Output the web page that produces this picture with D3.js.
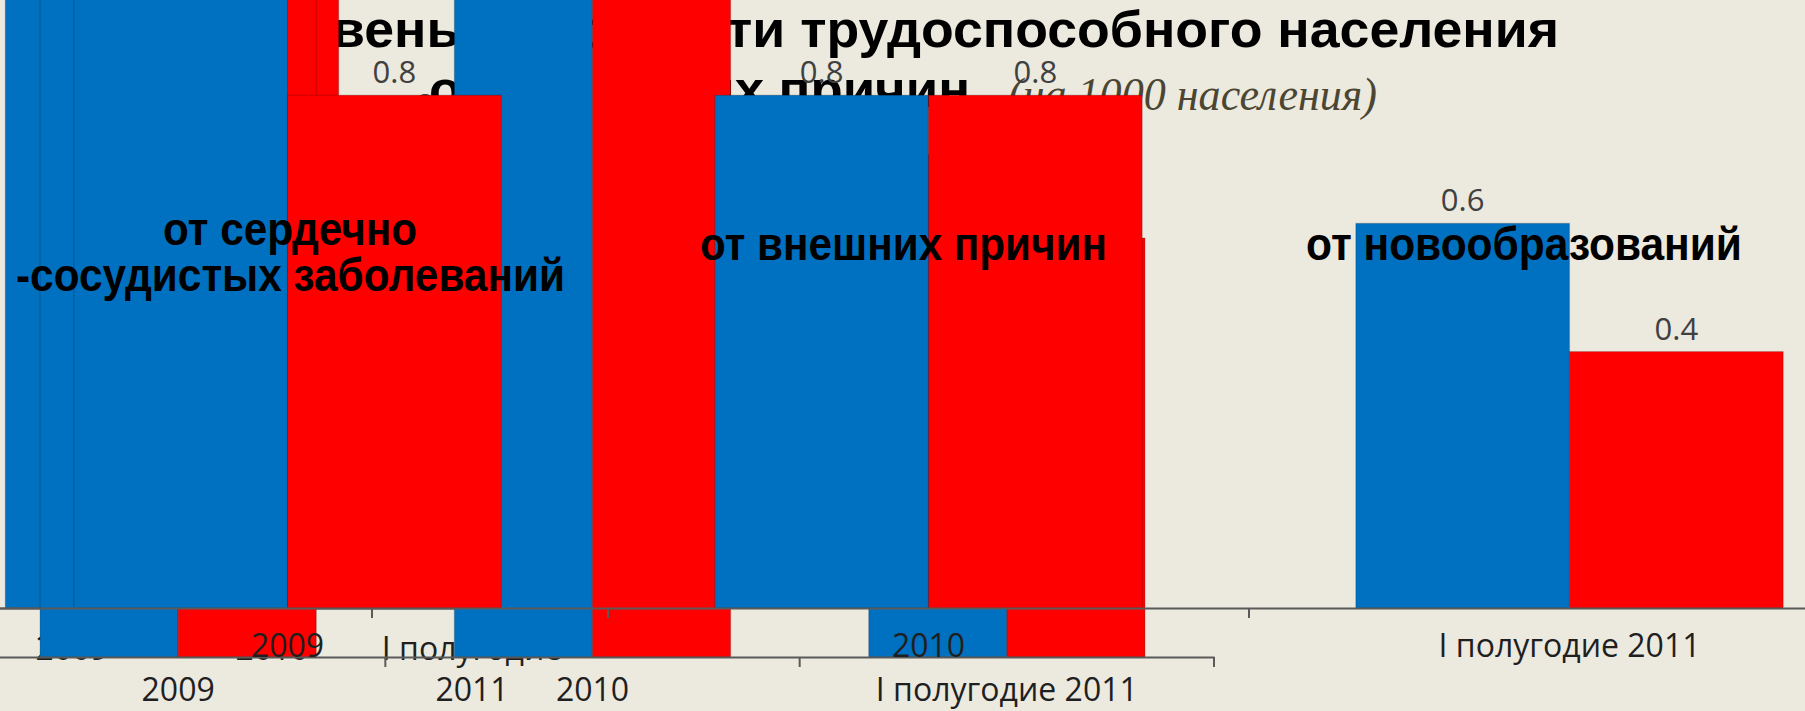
<!DOCTYPE html>
<html><head><meta charset="utf-8">
<script src="https://cdn.jsdelivr.net/npm/d3@7"></script>
<style>
html,body{margin:0;padding:0;background:#ECE9DF;overflow:hidden;}
svg{display:block;}
</style></head>
<body>
<svg id="c" width="1805" height="711"></svg>
<script>
// ---------- data ----------
const categories = ["2009", "2010", "I полугодие 2011"];
const seriesKeys = ["blue", "red"];
const titleLine1 = "Уровень смертности трудоспособного населения";
const titleLine2 = "от основных причин";
const titleUnit = "(на 1000 населения)";
const panelTitleLines = [["от сердечно", "-сосудистых заболеваний"], ["от внешних причин"], ["от новообразований"]];

// back panel (smallest copy)
const backBlue = [3.2, 2.9, 2.4];
const backRed  = [3.0, 3.1, 2.3];
// middle panel
const midBlue  = [1.8, 1.7, 1.2];
const midRed   = [1.9, 1.7, 1.0];
// front panel (largest copy)
const frontBlue = [1.0, 0.8, 0.6];
const frontRed  = [0.8, 0.8, 0.4];

// ---------- styles / layout ----------
const BG = "#ECE9DF", BLUE = "#0070C0", RED = "#FF0000";
const colors = {blue: BLUE, red: RED};
const svg = d3.select("#c");
svg.append("rect").attr("width", 1805).attr("height", 711).attr("fill", BG);

// Title (bottom layer)
const tg = svg.append("g");
function fitText(sel, str, targetStart, prefixLen, targetEnd) {
  sel.text(str);
  const node = sel.node();
  const full = node.getComputedTextLength();
  const pre = prefixLen > 0 ? node.getSubStringLength(0, prefixLen) : 0;
  const s = (targetEnd - targetStart) / (full - pre);
  sel.attr("x", targetStart - pre * s)
     .attr("textLength", full * s)
     .attr("lengthAdjust", "spacingAndGlyphs");
}
const t1 = tg.append("text").attr("y", 47)
  .style("font-family", "'Liberation Sans', Arial, sans-serif")
  .style("font-weight", "bold").style("font-size", "52px").attr("fill", "#000");
fitText(t1, titleLine1, 332, 3, 1559);
const t2 = tg.append("text").attr("y", 107)
  .style("font-family", "'Liberation Sans', Arial, sans-serif")
  .style("font-weight", "bold").style("font-size", "52px").attr("fill", "#000");
fitText(t2, titleLine2, 429, 0, 970);
const t3 = tg.append("text").attr("y", 110)
  .style("font-family", "'Liberation Serif', 'DejaVu Serif', serif")
  .style("font-style", "italic").style("font-size", "46px").attr("fill", "#4b4632");
fitText(t3, titleUnit, 1008, 0, 1377);

// ---------- panels ----------
const panels = [
  {blue: backBlue, red: backRed, x0: -28, x1: 572, axisY: 608, unit: 200, labelY: 660, wrap: true, line2Y: 701},
  {blue: midBlue, red: midRed, x0: -29, x1: 1214, axisY: 657, unit: 419, labelY: 701},
  {blue: frontBlue, red: frontRed, x0: -33, x1: 1890, axisY: 608, unit: 641, labelY: 657}
];

function drawPanel(cfg) {
  const g = svg.append("g");
  const x = d3.scaleBand().domain(categories).range([cfg.x0, cfg.x1]).paddingInner(0).paddingOuter(0);
  const sub = d3.scaleBand().domain(seriesKeys).range([0, x.bandwidth()]).paddingInner(0).paddingOuter(0.5);
  const y = d3.scaleLinear().domain([0, 1]).range([cfg.axisY, cfg.axisY - cfg.unit]);
  const data = [];
  categories.forEach((c, i) => seriesKeys.forEach(k => data.push({cat: c, key: k, v: cfg[k][i]})));

  g.selectAll("rect.bar").data(data).join("rect").attr("class", "bar")
    .attr("x", d => x(d.cat) + sub(d.key))
    .attr("width", sub.bandwidth())
    .attr("y", d => y(d.v))
    .attr("height", d => y(0) - y(d.v))
    .attr("fill", d => colors[d.key])
    .attr("stroke", "rgba(0,0,0,0.18)").attr("stroke-width", 1.2);

  // axis
  const ax = g.append("g").attr("transform", `translate(0,${cfg.axisY})`)
    .call(d3.axisBottom(x).tickSize(0).tickSizeOuter(0));
  ax.select(".domain").attr("stroke", "#5a5a5a").attr("stroke-width", 2);
  ax.selectAll(".tick text").remove();
  // boundary ticks
  const bounds = categories.map(c => x(c)).concat([x(categories[categories.length - 1]) + x.bandwidth()]);
  g.selectAll("line.bt").data(bounds).join("line").attr("class", "bt")
    .attr("x1", d => d).attr("x2", d => d)
    .attr("y1", cfg.axisY).attr("y2", cfg.axisY + 10)
    .attr("stroke", "#5a5a5a").attr("stroke-width", 2);

  // category labels
  const lab = g.selectAll("text.cat").data(categories).join("text").attr("class", "cat")
    .attr("text-anchor", "middle")
    .style("font-family", "'Open Sans', sans-serif").style("font-size", "32px")
    .attr("fill", "#1f1f1f");
  lab.each(function(d) {
    const t = d3.select(this);
    const cx = x(d) + x.bandwidth() / 2;
    if (cfg.wrap && d.indexOf(" ") > 0 && d.length > 6) {
      const parts = d.split(" ");
      const last = parts.pop();
      t.append("tspan").attr("x", cx).attr("y", cfg.labelY).text(parts.join(" "));
      t.append("tspan").attr("x", cx).attr("y", cfg.line2Y).text(last);
    } else {
      t.attr("x", cx).attr("y", cfg.labelY).text(d);
    }
  });

  // data labels (only those that fall inside the picture)
  const visible = data.filter(d => y(d.v) - 12 - 26 >= 0);
  g.selectAll("text.val").data(visible).join("text").attr("class", "val")
    .attr("x", d => x(d.cat) + sub(d.key) + sub.bandwidth() / 2)
    .attr("y", d => y(d.v) - 12)
    .attr("text-anchor", "middle")
    .style("font-family", "'Open Sans', sans-serif").style("font-size", "31px")
    .attr("fill", "#404040")
    .text(d => d3.format(".1f")(d.v));
}
panels.forEach(drawPanel);

// panel titles (top layer)
const panelTitlePos = [
  [{x: 163, y: 245, len: 254}, {x: 16, y: 291, len: 549}],
  [{x: 700, y: 260, len: 407}],
  [{x: 1306, y: 260, len: 436}]
];
panelTitleLines.forEach((lines, i) => {
  lines.forEach((ln, j) => {
    const p = panelTitlePos[i][j];
    svg.append("text").attr("x", p.x).attr("y", p.y)
      .attr("textLength", p.len).attr("lengthAdjust", "spacingAndGlyphs")
      .style("font-family", "'Liberation Sans', Arial, sans-serif")
      .style("font-weight", "bold").style("font-size", "46px")
      .attr("fill", "#000").text(ln);
  });
});
</script>
</body></html>
